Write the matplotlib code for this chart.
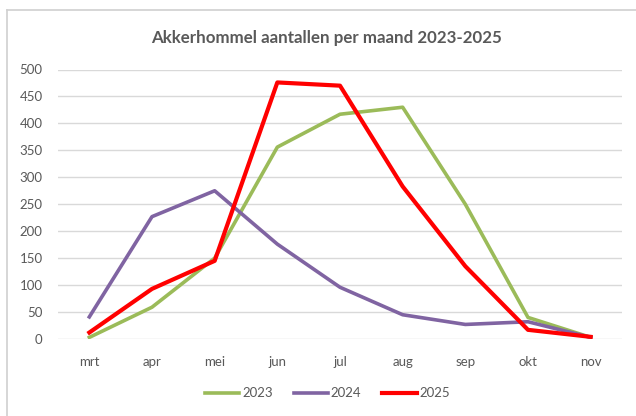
import matplotlib.pyplot as plt
from matplotlib.lines import Line2D

# maand-categorieen en aantallen
maanden = ['mrt', 'apr', 'mei', 'jun', 'jul', 'aug', 'sep', 'okt', 'nov']
aantal_2023 = [3, 59, 150, 356, 417, 430, 250, 40, 3]
aantal_2024 = [41, 227, 275, 176, 96, 45, 27, 32, 3]
aantal_2025 = [12, 93, 145, 476, 470, 283, 135, 17, 4]
yticks = list(range(0, 501, 50))

plt.rcParams['font.family'] = ['Lato', 'DejaVu Sans']
txt = '#595959'

W, H = 636, 416
fig = plt.figure(figsize=(W / 100, H / 100), dpi=100)
ax = fig.add_axes([58 / W, 1 - 339 / H, (622 - 58) / W, (339 - 69.5) / H])

x = range(len(maanden))
ax.plot(x, aantal_2023, color='#9BBB59', lw=2.6, label='2023', solid_joinstyle='round')
ax.plot(x, aantal_2024, color='#8064A2', lw=2.6, label='2024', solid_joinstyle='round')
ax.plot(x, aantal_2025, color='#FF0000', lw=3.0, label='2025', solid_joinstyle='round')

ax.set_xlim(-0.5, len(maanden) - 0.5)
ax.set_ylim(0, 500)
ax.set_yticks(yticks)
ax.set_xticks(list(x))
ax.set_xticklabels(maanden)
ax.grid(axis='y', color='#D9D9D9', lw=1)
ax.set_axisbelow(True)
for s in ax.spines.values():
    s.set_visible(False)
ax.tick_params(length=0, colors=txt, labelsize=9.5)
ax.tick_params(axis='x', pad=12)
ax.tick_params(axis='y', pad=11)

fig.text(0.514, 0.908, 'Akkerhommel aantallen per maand 2023-2025', ha='center', va='center',
         fontsize=12.2, fontweight='bold', color=txt)

fig.legend(loc='center', bbox_to_anchor=(0.515, 0.055), ncol=3, frameon=False,
           fontsize=9.5, labelcolor=txt, handlelength=2.6, handletextpad=0.2, columnspacing=1.6)

# rand van het grafiekgebied (links en boven zichtbaar)
fig.lines.append(Line2D([7 / W, 7 / W], [0, 1 - 9.5 / H], transform=fig.transFigure,
                        color='#D0D0D0', lw=1.2))
fig.lines.append(Line2D([7 / W, 1], [1 - 9.5 / H, 1 - 9.5 / H], transform=fig.transFigure,
                        color='#D0D0D0', lw=1.2))

fig.savefig('out.png', dpi=100)
